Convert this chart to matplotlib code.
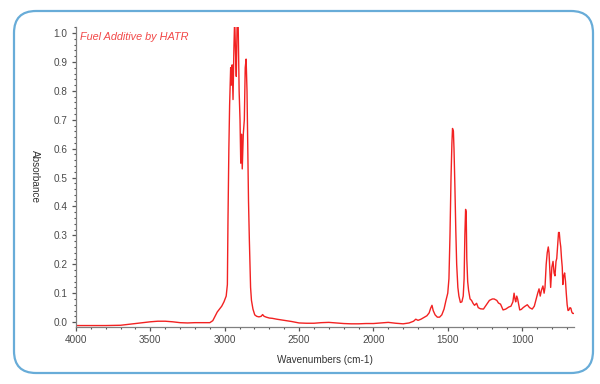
import matplotlib
matplotlib.use("Agg")
import matplotlib.pyplot as plt
from matplotlib.patches import FancyBboxPatch
from matplotlib.ticker import MultipleLocator

# spectrum (wavenumber in cm-1, absorbance)
wavenumbers = [
    4000, 3900, 3800, 3700, 3650, 3600, 3550, 3500, 3450, 3400, 3350, 3300,
    3250, 3200, 3150, 3100, 3080, 3065, 3050, 3035, 3020, 3005, 2990, 2982,
    2978, 2972, 2967, 2960, 2955, 2950, 2944, 2938, 2933, 2927, 2922, 2916,
    2910, 2903, 2897, 2892, 2887, 2882, 2875, 2868, 2862, 2856, 2850, 2845,
    2840, 2834, 2826, 2820, 2810, 2798, 2785, 2770, 2755, 2745, 2735, 2720,
    2700, 2680, 2650, 2600, 2550, 2500, 2450, 2400, 2350, 2300, 2250, 2200,
    2150, 2100, 2050, 2000, 1950, 1900, 1850, 1800, 1760, 1730, 1715, 1700,
    1680, 1660, 1640, 1625, 1615, 1606, 1598, 1585, 1570, 1555, 1540, 1525,
    1512, 1500, 1492, 1485, 1478, 1472, 1468, 1462, 1458, 1452, 1446, 1440,
    1432, 1425, 1415, 1405, 1396, 1390, 1385, 1380, 1376, 1372, 1366, 1360,
    1350, 1340, 1330, 1320, 1306, 1295, 1280, 1260, 1240, 1220, 1200, 1188,
    1170, 1159, 1145, 1128, 1110, 1090, 1075, 1062, 1054, 1048, 1043, 1036,
    1030, 1016, 1005, 993, 980, 965, 950, 932, 918, 905, 895, 886,
    878, 870, 860, 852, 846, 838, 831, 824, 819, 813, 808, 800,
    792, 785, 779, 772, 767, 760, 755, 750, 745, 740, 735, 730,
    726, 720, 714, 708, 703, 697, 691, 685, 678, 672, 666, 660,
    655, 650,
]
absorbance = [
    -0.012, -0.012, -0.012, -0.011, -0.008, -0.005, -0.002, 0.001, 0.003, 0.003, 0.001, -0.002,
    -0.003, -0.002, -0.002, -0.002, 0.005, 0.02, 0.035, 0.045, 0.055, 0.07, 0.09, 0.13,
    0.35, 0.60, 0.75, 0.88, 0.82, 0.89, 0.77, 0.95, 1.05, 0.93, 0.85, 1.05,
    1.05, 0.80, 0.70, 0.55, 0.65, 0.53, 0.65, 0.70, 0.88, 0.91, 0.80, 0.62,
    0.42, 0.28, 0.12, 0.075, 0.045, 0.025, 0.02, 0.018, 0.02, 0.026, 0.02, 0.017,
    0.014, 0.013, 0.01, 0.006, 0.002, -0.003, -0.004, -0.004, -0.002, -0.001, -0.003, -0.005,
    -0.006, -0.006, -0.005, -0.005, -0.003, -0.001, -0.004, -0.006, -0.003, 0.003, 0.01, 0.006,
    0.01, 0.016, 0.022, 0.032, 0.048, 0.058, 0.04, 0.025, 0.017, 0.017, 0.025, 0.045,
    0.075, 0.10, 0.15, 0.30, 0.50, 0.62, 0.67, 0.66, 0.60, 0.47, 0.32, 0.20,
    0.12, 0.09, 0.068, 0.07, 0.09, 0.15, 0.30, 0.39, 0.38, 0.22, 0.14, 0.11,
    0.08, 0.075, 0.065, 0.058, 0.065, 0.05, 0.046, 0.045, 0.06, 0.075, 0.08, 0.08,
    0.075, 0.066, 0.062, 0.042, 0.045, 0.052, 0.055, 0.07, 0.10, 0.08, 0.07, 0.09,
    0.08, 0.042, 0.044, 0.05, 0.055, 0.06, 0.05, 0.045, 0.055, 0.08, 0.10, 0.115,
    0.09, 0.11, 0.125, 0.10, 0.12, 0.20, 0.24, 0.26, 0.24, 0.17, 0.12, 0.19,
    0.21, 0.17, 0.16, 0.21, 0.22, 0.27, 0.31, 0.31, 0.28, 0.26, 0.22, 0.19,
    0.13, 0.16, 0.17, 0.14, 0.10, 0.06, 0.04, 0.042, 0.05, 0.048, 0.035, 0.03,
    0.03, 0.03,
]
x_ticks = [4000, 3500, 3000, 2500, 2000, 1500, 1000]
y_ticks = [0.0, 0.1, 0.2, 0.3, 0.4, 0.5, 0.6, 0.7, 0.8, 0.9, 1.0]

plt.rcParams['font.family'] = ['Liberation Sans', 'DejaVu Sans']

fig = plt.figure(figsize=(6, 3.84), dpi=100)

# rounded blue frame, drawn in pixel space
bg = fig.add_axes([0, 0, 1, 1])
bg.set_xlim(0, 600)
bg.set_ylim(0, 384)
bg.axis('off')
frame = FancyBboxPatch((14, 11), 579, 362, boxstyle="round,pad=0,rounding_size=22",
                       facecolor='none', edgecolor='#68acd8', linewidth=1.6)
bg.add_patch(frame)

ax = fig.add_axes([76 / 600, 57 / 384, 498 / 600, 300 / 384])
ax.patch.set_alpha(0)
ax.plot(wavenumbers, absorbance, color='#f22222', linewidth=1.0)

ax.set_xlim(4000, 651)
ax.set_ylim(-0.017, 1.021)
ax.set_xticks(x_ticks)
ax.set_yticks(y_ticks)
ax.set_yticklabels([f"{v:.1f}" for v in y_ticks])
ax.xaxis.set_minor_locator(MultipleLocator(100))
ax.yaxis.set_minor_locator(MultipleLocator(0.02))

for side in ['top', 'right']:
    ax.spines[side].set_visible(False)
for side in ['left', 'bottom']:
    ax.spines[side].set_color('#808080')
    ax.spines[side].set_linewidth(0.9)

ax.tick_params(which='major', length=3, width=0.9, color='#555555',
               labelsize=7.2, labelcolor='#4a4a4a', pad=3)
ax.tick_params(which='minor', length=1.5, width=0.8, color='#555555')

ax.set_xlabel('Wavenumbers (cm-1)', fontsize=7.2, color='#333333')
ax.xaxis.set_label_coords(0.5, -0.093)
ax.set_ylabel('Absorbance', fontsize=7.2, color='#333333', rotation=270, va='center')
ax.yaxis.set_label_coords(-0.082, 0.5)

ax.text(0.008, 0.967, 'Fuel Additive by HATR', transform=ax.transAxes,
        fontsize=7.8, style='italic', color='#f24848', va='center', ha='left')

fig.savefig('out.png', dpi=100)
